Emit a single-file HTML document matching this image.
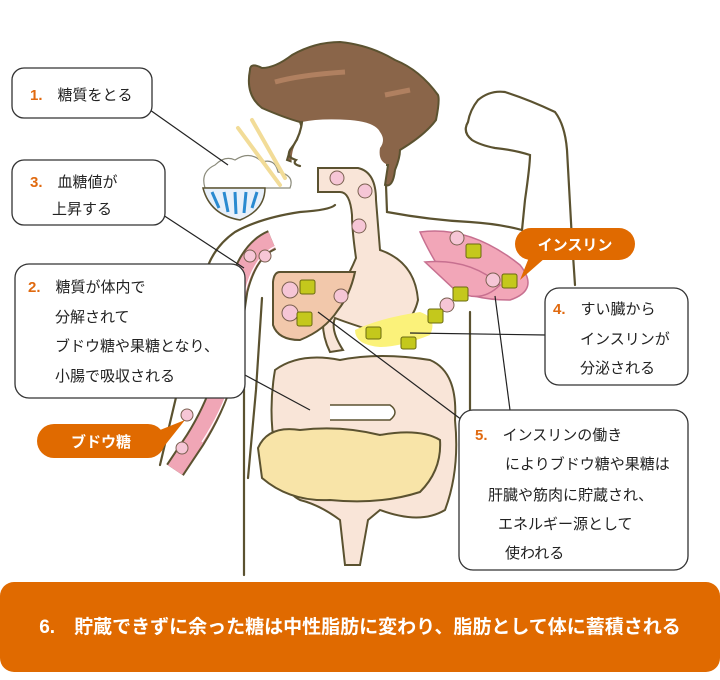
<!DOCTYPE html>
<html><head><meta charset="utf-8"><style>
body{margin:0;background:#fff;}
svg{display:block;}
text{font-family:"Liberation Sans","Noto Sans CJK JP",sans-serif;}
</style></head><body>
<svg width="720" height="680" viewBox="0 0 720 680" xmlns="http://www.w3.org/2000/svg">
<!-- hair -->
<path d="M250 70 Q245 95 262 108 Q285 118 300 122 L302 128 Q300 140 290 150 L287 160 Q300 165 307 165 L388 165 L385 185 Q393 188 395 170 Q400 158 400 150 Q425 135 436 120 Q440 100 438 95 Q420 70 395 60 Q370 45 340 42 Q315 42 292 55 Q275 68 262 68 Q250 62 250 70Z" fill="#8a6549" stroke="#5b5230" stroke-width="2"/>
<path d="M302 122 Q320 118 350 120 Q375 122 380 132 Q386 140 380 148 Q378 160 386 164 L386 168 L292 168 Q290 150 298 140Z" fill="#fff"/>
<path d="M275 82 Q300 75 345 72" stroke="#b08060" stroke-width="5" fill="none"/>
<path d="M385 95 Q400 92 410 90" stroke="#b08060" stroke-width="5" fill="none"/>
<g fill="none" stroke="#5b5230" stroke-width="2.2" stroke-linecap="round">
<path d="M302 122 Q300 138 290 150 Q286 157 296 160 Q292 164 300 166"/>
<path d="M335 205 Q330 210 300 212 Q260 218 235 232 Q212 248 205 275 L160 465"/>
<path d="M262 298 L256 390 L248 478"/>
<path d="M244 380 L244 575"/>
<path d="M386 185 L387 212 Q430 220 470 222 Q500 224 522 230"/>
<path d="M522 230 L525 200 Q530 165 530 155 Q515 150 495 148 Q480 145 472 140 Q462 132 468 122 Q470 110 478 100 Q490 90 505 92 Q530 100 555 112 Q565 125 567 150 L572 240 L575 285"/>
<path d="M470 312 L470 420"/>
</g>
<!-- rice bowl -->
<path d="M205 188 Q200 172 215 165 Q225 155 235 160 Q250 150 262 162 Q275 158 278 172 Q295 175 290 188Z" fill="#fff" stroke="#8a8a7a" stroke-width="1.2"/>
<path d="M203 188 L265 188 Q265 210 240 220 Q210 215 203 188Z" fill="#e8f0fa" stroke="#5b5230" stroke-width="1.5"/>
<g stroke="#2a8ad0" stroke-width="3"><path d="M212 192 L219 208 M224 192 L228 212 M235 192 L236 214 M246 192 L244 213 M257 192 L252 208"/></g>
<path d="M238 128 L280 185 M252 120 L285 178" stroke="#f2dc98" stroke-width="4" stroke-linecap="round"/>
<!-- pink vessel -->
<path d="M272 240 Q248 250 238 290 Q232 330 228 360 Q220 400 195 440 L175 470" fill="none" stroke="#5b5230" stroke-width="21"/>
<path d="M272 240 Q248 250 238 290 Q232 330 228 360 Q220 400 195 440 L175 470" fill="none" stroke="#f0a6b6" stroke-width="17"/>
<path d="M276 246 Q254 256 245 292 Q240 330 236 362 Q228 402 202 442" fill="none" stroke="#fff" stroke-width="1.2"/>
<!-- esophagus/stomach -->
<path d="M318 168 L358 168 Q376 172 376 200 L380 250 Q415 262 418 300 Q410 335 370 330 Q345 322 335 318 Q330 330 343 350 L330 352 Q320 332 324 310 Q345 285 356 258 Q352 230 352 215 Q350 192 340 192 L318 192Z" fill="#f9e5d8" stroke="#5b5230" stroke-width="2"/>
<!-- liver -->
<path d="M280 272 L355 272 Q350 295 338 310 Q325 330 300 340 Q278 340 273 325 L273 282 Q274 272 280 272Z" fill="#f2c8ab" stroke="#5b5230" stroke-width="2"/>
<!-- muscle -->
<path d="M420 232 Q470 225 520 265 Q540 290 510 300 Q470 300 450 285 Q430 255 420 232Z" fill="#f2a6b8" stroke="#c77090" stroke-width="1.5"/>
<path d="M425 262 Q470 258 500 285 Q480 305 455 290Z" fill="#f2a6b8" stroke="#c77090" stroke-width="1.5"/>
<!-- pancreas -->
<path d="M355 330 Q380 318 420 312 Q438 318 430 335 Q400 347 380 347 Q355 345 355 330Z" fill="#fbf27a"/>
<!-- intestines -->
<path d="M275 370 Q300 352 340 360 Q380 352 430 360 Q458 372 455 420 Q460 470 445 510 Q420 525 380 510 L368 520 L360 565 L345 565 L340 520 Q320 505 300 500 Q280 490 275 450 Q268 410 275 370Z" fill="#f9e5d8" stroke="#5b5230" stroke-width="2"/>
<path d="M258 448 Q268 425 300 430 Q340 425 380 435 Q420 428 440 440 Q442 470 420 492 Q380 505 330 500 Q290 502 262 478Z" fill="#f8e4a8" stroke="#5b5230" stroke-width="2"/>
<path d="M330 405 L390 405 Q400 412 390 420 L330 420" fill="#fff" stroke="#5b5230" stroke-width="1.5"/>
<!-- smileys / squares -->
<g fill="#f6c6d6" stroke="#7a6050" stroke-width="1">
<circle cx="337" cy="178" r="7"/><circle cx="365" cy="191" r="7"/><circle cx="359" cy="226" r="7"/>
<circle cx="290" cy="290" r="8"/><circle cx="290" cy="313" r="8"/><circle cx="341" cy="296" r="7"/>
<circle cx="457" cy="238" r="7"/><circle cx="493" cy="280" r="7"/><circle cx="447" cy="305" r="7"/>
<circle cx="250" cy="256" r="6"/><circle cx="265" cy="256" r="6"/><circle cx="235" cy="290" r="6"/><circle cx="234" cy="312" r="6"/><circle cx="187" cy="415" r="6"/><circle cx="182" cy="448" r="6"/>
</g>
<g fill="#c4c81c" stroke="#6a6a10" stroke-width="1">
<rect x="300" y="280" width="15" height="14" rx="2"/><rect x="297" y="312" width="15" height="14" rx="2"/>
<rect x="466" y="244" width="15" height="14" rx="2"/><rect x="502" y="274" width="15" height="14" rx="2"/>
<rect x="453" y="287" width="15" height="14" rx="2"/><rect x="428" y="309" width="15" height="14" rx="2"/>
<rect x="366" y="327" width="15" height="12" rx="2"/><rect x="401" y="337" width="15" height="12" rx="2"/>
</g>
<!-- leader lines -->
<g stroke="#222" stroke-width="1.2">
<line x1="150" y1="110" x2="228" y2="165"/>
<line x1="163" y1="215" x2="244" y2="268"/>
<line x1="230" y1="367" x2="310" y2="410"/>
<line x1="318" y1="312" x2="462" y2="420"/>
<line x1="410" y1="333" x2="546" y2="335"/>
<line x1="495" y1="296" x2="510" y2="410"/>
</g>
<!-- boxes -->
<g fill="#fff" stroke="#333" stroke-width="1.3">
<rect x="12" y="68" width="140" height="50" rx="12"/>
<rect x="12" y="160" width="153" height="65" rx="12"/>
<rect x="15" y="264" width="230" height="134" rx="14"/>
<rect x="545" y="288" width="143" height="97" rx="14"/>
<rect x="459" y="410" width="229" height="160" rx="14"/>
</g>
<g font-size="15" fill="#222">
<text x="30" y="100"><tspan fill="#e06a10" font-weight="bold">1.</tspan>　糖質をとる</text>
<text x="30" y="187"><tspan fill="#e06a10" font-weight="bold">3.</tspan>　血糖値が</text>
<text x="52" y="214">上昇する</text>
<text x="28" y="292"><tspan fill="#e06a10" font-weight="bold">2.</tspan>　糖質が体内で</text>
<text x="55" y="322">分解されて</text>
<text x="55" y="351">ブドウ糖や果糖となり、</text>
<text x="55" y="381">小腸で吸収される</text>
<text x="553" y="314"><tspan fill="#e06a10" font-weight="bold">4.</tspan>　すい臓から</text>
<text x="580" y="344">インスリンが</text>
<text x="580" y="373">分泌される</text>
<text x="475" y="440"><tspan fill="#e06a10" font-weight="bold">5.</tspan>　インスリンの働き</text>
<text x="505" y="469">によりブドウ糖や果糖は</text>
<text x="488" y="500">肝臓や筋肉に貯蔵され、</text>
<text x="498" y="529">エネルギー源として</text>
<text x="505" y="558">使われる</text>
</g>
<!-- pills -->
<rect x="515" y="228" width="120" height="32" rx="16" fill="#e06a00"/>
<path d="M530 255 L520 280 L545 258Z" fill="#e06a00"/>
<text x="575" y="250" text-anchor="middle" font-size="15" fill="#fff" font-weight="bold">インスリン</text>
<rect x="37" y="424" width="128" height="34" rx="17" fill="#e06a00"/>
<path d="M150 434 L185 420 L158 454Z" fill="#e06a00"/>
<text x="101" y="447" text-anchor="middle" font-size="15" fill="#fff" font-weight="bold">ブドウ糖</text>
<!-- banner -->
<rect x="0" y="582" width="720" height="90" rx="14" fill="#e06a00"/>
<text x="360" y="633" text-anchor="middle" font-size="19" fill="#fff" font-weight="bold">6.　貯蔵できずに余った糖は中性脂肪に変わり、脂肪として体に蓄積される</text>
</svg>
</body></html>
